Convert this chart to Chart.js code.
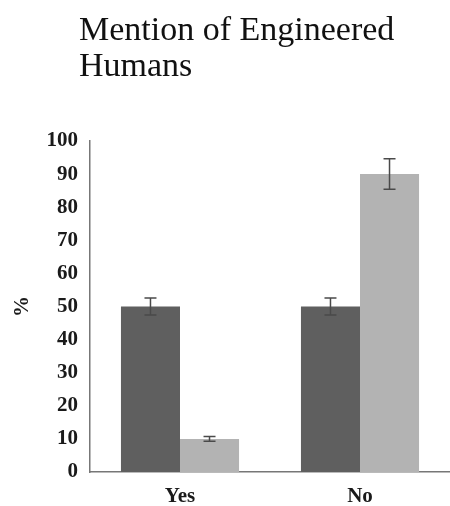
<!DOCTYPE html>
<html lang="en">
<head>
    <meta charset="UTF-8">
    <title>Mention of Engineered Humans</title>
    <script src="https://cdn.jsdelivr.net/npm/chart.js"></script>
    <style>
        body {
            margin: 0;
            background: white;
        }
        .wrap {
            position: relative;
            width: 450px;
            height: 506px;
        }
        .chartTitle {
            position: absolute;
            top: 11px;
            left: 79px;
            font-family: "Liberation Serif", "Times New Roman", serif;
            font-size: 34px;
            line-height: 36px;
            color: #111;
        }
        #barChart {
            position: absolute;
            top: 0;
            left: 0;
        }
    </style>
</head>
<body>
    <div class="wrap">
        <canvas id="barChart" width="450" height="506"></canvas>
        <div class="chartTitle">Mention of Engineered<br>Humans</div>
    </div>

    <script>
        let categories = ['Yes', 'No'];
        let darkValues = [50, 50];
        let lightValues = [10, 90];
        let darkErrors = [2.6, 2.6];
        let lightErrors = [0.7, 4.6];
        let yTicks = [0, 10, 20, 30, 40, 50, 60, 70, 80, 90, 100];

        // draws the little error whiskers on top of each bar
        const errorBars = {
            id: 'errorBars',
            afterDatasetsDraw(chart) {
                let ctx = chart.ctx;
                let yScale = chart.scales.y;
                chart.data.datasets.forEach((ds, i) => {
                    let meta = chart.getDatasetMeta(i);
                    meta.data.forEach((bar, j) => {
                        let v = ds.data[j];
                        let e = ds.errors[j];
                        let top = yScale.getPixelForValue(v + e);
                        let bottom = yScale.getPixelForValue(v - e);
                        ctx.save();
                        ctx.strokeStyle = '#4a4a4a';
                        ctx.lineWidth = 1.5;
                        ctx.beginPath();
                        ctx.moveTo(bar.x, top);
                        ctx.lineTo(bar.x, bottom);
                        ctx.moveTo(bar.x - 6, top);
                        ctx.lineTo(bar.x + 6, top);
                        ctx.moveTo(bar.x - 6, bottom);
                        ctx.lineTo(bar.x + 6, bottom);
                        ctx.stroke();
                        ctx.restore();
                    });
                });
            }
        };

        Chart.defaults.font.family = '"Liberation Serif", "Times New Roman", serif';
        Chart.defaults.color = '#1a1a1a';

        new Chart(document.getElementById('barChart').getContext('2d'), {
            type: 'bar',
            data: {
                labels: categories,
                datasets: [{
                    data: darkValues,
                    errors: darkErrors,
                    backgroundColor: '#5f5f5f',
                    borderWidth: 0
                }, {
                    data: lightValues,
                    errors: lightErrors,
                    backgroundColor: '#b3b3b3',
                    borderWidth: 0
                }]
            },
            options: {
                responsive: false,
                animation: false,
                layout: {
                    padding: { top: 141, right: 0, bottom: 0, left: 0 }
                },
                plugins: {
                    legend: { display: false },
                    tooltip: { enabled: false }
                },
                datasets: {
                    bar: {
                        categoryPercentage: 0.656,
                        barPercentage: 1
                    }
                },
                scales: {
                    x: {
                        grid: { display: false, drawTicks: false },
                        border: { display: true, color: '#777', width: 1.5 },
                        ticks: {
                            padding: 12,
                            font: { size: 21, weight: 'bold' }
                        },
                        afterFit(scale) {
                            scale.height = 34;
                        }
                    },
                    y: {
                        min: 0,
                        max: 100,
                        afterBuildTicks(scale) {
                            scale.ticks = yTicks.map(v => ({ value: v }));
                        },
                        grid: { display: false, drawTicks: false },
                        border: { display: true, color: '#777', width: 1.5 },
                        ticks: {
                            padding: 12,
                            font: { size: 21, weight: 'bold' }
                        },
                        title: {
                            display: true,
                            text: '%',
                            padding: { top: 10, bottom: 0 },
                            font: { size: 21, weight: 'bold' }
                        },
                        afterFit(scale) {
                            scale.width = 90;
                        }
                    }
                }
            },
            plugins: [errorBars]
        });
    </script>
</body>
</html>
